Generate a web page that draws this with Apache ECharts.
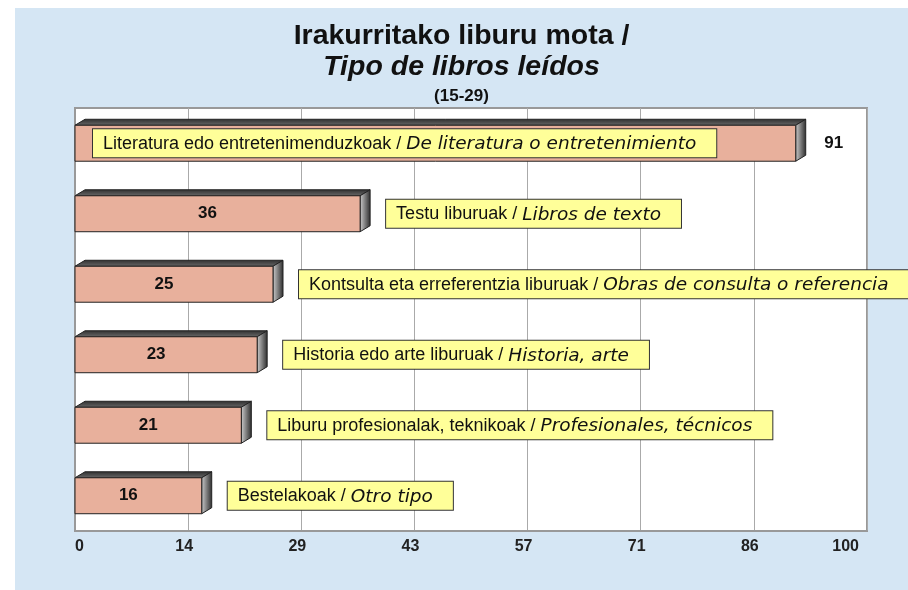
<!DOCTYPE html>
<html>
<head>
<meta charset="utf-8">
<script src="https://cdn.jsdelivr.net/npm/echarts@6/dist/echarts.min.js"></script>
<style>
  html, body { margin: 0; padding: 0; background: #fff; }
  #chart { position: absolute; left: 15px; top: 8px; width: 893px; height: 582px; background: #d5e6f4; }
</style>
</head>
<body>
<div id="chart"></div>
<script>
// values (percent, 15-29 age group)
const basqueNames = [
  "Literatura edo entretenimenduzkoak",
  "Testu liburuak",
  "Kontsulta eta erreferentzia liburuak",
  "Historia edo arte liburuak",
  "Liburu profesionalak, teknikoak",
  "Bestelakoak"
];
const spanishNames = [
  "De literatura o entretenimiento",
  "Libros de texto",
  "Obras de consulta o referencia",
  "Historia, arte",
  "Profesionales, técnicos",
  "Otro tipo"
];
const values = [91, 36, 25, 23, 21, 16];
const axisMax = 100;
const axisStep = 100 / 7; // ticks shown as 0,14,29,43,57,71,86,100

const chart = echarts.init(document.getElementById("chart"));

function renderBar(params, api) {
  const i = params.dataIndex;
  const val = api.value(0);
  const start = api.coord([0, i]);
  const end = api.coord([val, i]);
  const h = api.size([0, 1])[1] * 0.51;
  const x0 = start[0];
  const x1 = end[0];
  const yT = end[1] - h / 2;
  const dx = 10;
  const dy = 6;
  const long = val > 50;

  const valueX = long ? x1 + dx + 28 : (x0 + x1) / 2 - 10;
  const boxX = long ? x0 + 18 : x1 + dx + 16;

  return {
    type: "group",
    children: [
      {
        type: "polygon",
        shape: { points: [[x0, yT], [x1, yT], [x1 + dx, yT - dy], [x0 + dx, yT - dy]] },
        style: {
          fill: new echarts.graphic.LinearGradient(0, 0, 0, 1, [
            { offset: 0, color: "#2e2e2e" },
            { offset: 1, color: "#6a6a6a" }
          ]),
          stroke: "#222",
          lineWidth: 1
        }
      },
      {
        type: "polygon",
        shape: { points: [[x1, yT], [x1 + dx, yT - dy], [x1 + dx, yT + h - dy], [x1, yT + h]] },
        style: {
          fill: new echarts.graphic.LinearGradient(0, 0, 1, 0, [
            { offset: 0, color: "#d0d0d0" },
            { offset: 1, color: "#2a2a2a" }
          ]),
          stroke: "#222",
          lineWidth: 1
        }
      },
      {
        type: "rect",
        shape: { x: x0, y: yT, width: x1 - x0, height: h },
        style: { fill: "#e8b09c", stroke: "#222", lineWidth: 1 }
      },
      {
        type: "text",
        style: {
          text: String(val),
          x: valueX,
          y: end[1],
          align: "center",
          verticalAlign: "middle",
          fontFamily: "Liberation Sans",
          fontWeight: "bold",
          fontSize: 17,
          fill: "#111"
        }
      },
      {
        type: "text",
        style: {
          text: "{n|" + basqueNames[i] + " / }{i|" + spanishNames[i] + "}",
          x: boxX,
          y: end[1],
          align: "left",
          verticalAlign: "middle",
          backgroundColor: "#ffff99",
          borderColor: "#333",
          borderWidth: 1,
          padding: [5, 20, 5, 10],
          rich: {
            n: { fontFamily: "Liberation Sans", fontSize: 18, fill: "#111", lineHeight: 18, padding: [1, 0, 0, 0] },
            i: { fontFamily: "DejaVu Sans", fontStyle: "italic", fontSize: 18.5, fill: "#111", lineHeight: 18, padding: [2, 0, 0, 0] }
          }
        }
      }
    ]
  };
}

chart.setOption({
  animation: false,
  title: [
    {
      text: "{a|Irakurritako liburu mota /}\n{b|Tipo de libros leídos}",
      left: "center",
      top: 8,
      textStyle: {
        rich: {
          a: { fontFamily: "Liberation Sans", fontWeight: "bold", fontSize: 28.5, color: "#111", lineHeight: 31 },
          b: { fontFamily: "Liberation Sans", fontWeight: "bold", fontStyle: "italic", fontSize: 28.5, color: "#111", lineHeight: 31 }
        }
      }
    },
    {
      text: "(15-29)",
      left: "center",
      top: 75,
      textStyle: { fontFamily: "Liberation Sans", fontWeight: "bold", fontSize: 17, color: "#111" }
    }
  ],
  grid: {
    left: 60, right: 41, top: 100, bottom: 59,
    show: true, backgroundColor: "#fff", borderColor: "#999", borderWidth: 2
  },
  xAxis: {
    type: "value",
    min: 0,
    max: axisMax,
    interval: axisStep,
    axisLine: { show: true, lineStyle: { color: "#999", width: 2 } },
    axisTick: { show: false },
    splitLine: { show: true, lineStyle: { color: "#aaa", width: 1 } },
    axisLabel: {
      formatter: (v) => String(Math.round(v)),
      fontFamily: "Liberation Sans",
      fontWeight: "bold",
      fontSize: 16,
      color: "#222",
      margin: 8,
      padding: [0, 8, 0, 0],
      alignMinLabel: "left",
      alignMaxLabel: "right"
    }
  },
  yAxis: {
    type: "category",
    inverse: true,
    data: basqueNames,
    axisLine: { show: true, lineStyle: { color: "#999", width: 2 } },
    axisTick: { show: false },
    axisLabel: { show: false },
    splitLine: { show: false }
  },
  series: [
    {
      type: "custom",
      renderItem: renderBar,
      encode: { x: 0, y: 1 },
      data: values.map((v, i) => [v, i])
    }
  ]
});
</script>
</body>
</html>
